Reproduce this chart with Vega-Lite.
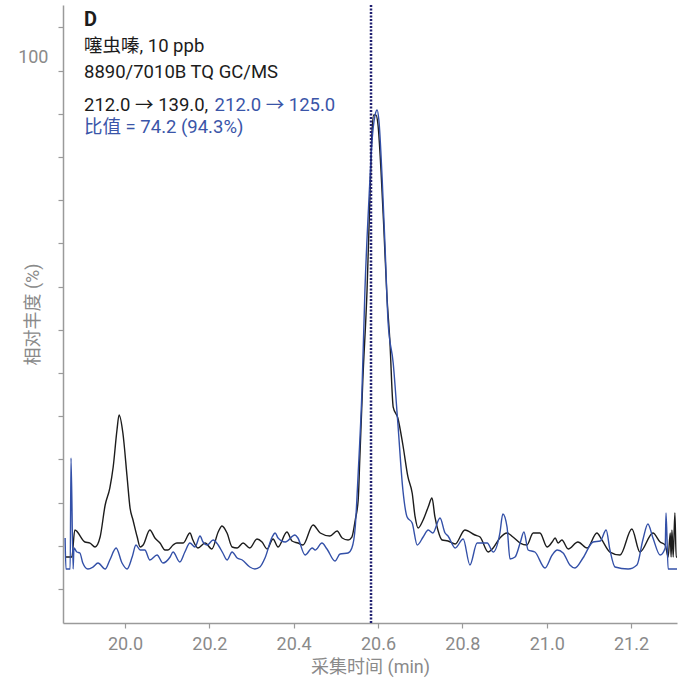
{
  "$schema": "https://vega.github.io/schema/vega-lite/v6.json",
  "width": 614,
  "height": 618,
  "autosize": "none",
  "padding": {"left": 63, "top": 5, "right": 12, "bottom": 62},
  "background": "white",
  "config": {
    "view": {"stroke": null},
    "axis": {
      "labelFont": "Roboto, Noto Sans CJK SC",
      "titleFont": "Roboto, Noto Sans CJK SC",
      "labelFontSize": 18,
      "titleFontSize": 18,
      "labelColor": "#8a8a8a",
      "titleColor": "#8a8a8a",
      "titleFontWeight": "normal",
      "domainColor": "#9a9a9a",
      "tickColor": "#9a9a9a",
      "domainWidth": 1.5,
      "tickWidth": 1.2,
      "tickSize": 5,
      "grid": false
    }
  },
  "datasets": {
    "q": [
      {"t":19.858,"v":11.66},{"t":19.874,"v":11.66},{"t":19.881,"v":16.43},{"t":19.905,"v":14.31},{"t":19.917,"v":14.13},{"t":19.929,"v":13.43},{"t":19.941,"v":15.19},{"t":19.953,"v":20.85},{"t":19.964,"v":23.85},{"t":19.972,"v":27.56},{"t":19.981,"v":34.10},{"t":19.986,"v":36.75},{"t":19.995,"v":33.57},{"t":20.005,"v":25.80},{"t":20.012,"v":20.32},{"t":20.019,"v":18.20},{"t":20.029,"v":15.19},{"t":20.036,"v":13.43},{"t":20.043,"v":13.78},{"t":20.059,"v":16.43},{"t":20.071,"v":15.02},{"t":20.083,"v":14.13},{"t":20.095,"v":12.90},{"t":20.102,"v":12.90},{"t":20.114,"v":13.78},{"t":20.123,"v":14.13},{"t":20.138,"v":14.13},{"t":20.154,"v":15.90},{"t":20.161,"v":14.66},{"t":20.173,"v":13.25},{"t":20.190,"v":14.13},{"t":20.206,"v":13.07},{"t":20.221,"v":16.08},{"t":20.230,"v":17.14},{"t":20.242,"v":15.90},{"t":20.254,"v":13.43},{"t":20.266,"v":13.25},{"t":20.280,"v":14.13},{"t":20.296,"v":13.25},{"t":20.313,"v":14.84},{"t":20.325,"v":14.31},{"t":20.337,"v":13.07},{"t":20.351,"v":14.84},{"t":20.363,"v":13.43},{"t":20.384,"v":16.08},{"t":20.396,"v":14.49},{"t":20.410,"v":14.13},{"t":20.422,"v":13.78},{"t":20.446,"v":17.31},{"t":20.463,"v":15.90},{"t":20.486,"v":15.37},{"t":20.503,"v":16.25},{"t":20.515,"v":15.02},{"t":20.529,"v":14.66},{"t":20.538,"v":15.19},{"t":20.546,"v":18.20},{"t":20.553,"v":21.73},{"t":20.557,"v":29.33},{"t":20.564,"v":42.93},{"t":20.574,"v":58.83},{"t":20.581,"v":75.62},{"t":20.586,"v":87.10},{"t":20.590,"v":89.75},{"t":20.595,"v":89.75},{"t":20.600,"v":87.99},{"t":20.607,"v":80.04},{"t":20.614,"v":69.43},{"t":20.621,"v":57.95},{"t":20.628,"v":50.00},{"t":20.636,"v":38.16},{"t":20.647,"v":36.22},{"t":20.659,"v":31.45},{"t":20.671,"v":25.80},{"t":20.681,"v":22.97},{"t":20.688,"v":18.73},{"t":20.695,"v":16.78},{"t":20.707,"v":18.20},{"t":20.719,"v":20.49},{"t":20.728,"v":22.08},{"t":20.735,"v":18.73},{"t":20.742,"v":16.43},{"t":20.752,"v":14.66},{"t":20.766,"v":14.49},{"t":20.783,"v":13.96},{"t":20.806,"v":16.43},{"t":20.830,"v":15.55},{"t":20.842,"v":15.19},{"t":20.861,"v":12.54},{"t":20.873,"v":13.25},{"t":20.889,"v":15.02},{"t":20.906,"v":15.90},{"t":20.920,"v":15.19},{"t":20.937,"v":14.13},{"t":20.953,"v":13.78},{"t":20.968,"v":15.90},{"t":20.984,"v":15.90},{"t":21.001,"v":13.43},{"t":21.013,"v":14.31},{"t":21.020,"v":15.02},{"t":21.027,"v":14.13},{"t":21.036,"v":14.66},{"t":21.051,"v":13.07},{"t":21.074,"v":14.31},{"t":21.096,"v":13.25},{"t":21.119,"v":15.90},{"t":21.131,"v":14.66},{"t":21.150,"v":12.54},{"t":21.174,"v":12.01},{"t":21.202,"v":16.61},{"t":21.221,"v":12.54},{"t":21.252,"v":15.90},{"t":21.269,"v":14.31},{"t":21.281,"v":13.78},{"t":21.288,"v":11.66},{"t":21.293,"v":15.90},{"t":21.295,"v":11.66},{"t":21.297,"v":16.43},{"t":21.300,"v":11.66},{"t":21.304,"v":19.43},{"t":21.307,"v":11.66},{"t":21.309,"v":11.66}
    ],
    "c": [
      {"t":19.858,"v":15.02},{"t":19.860,"v":9.54},{"t":19.870,"v":9.54},{"t":19.872,"v":29.15},{"t":19.877,"v":9.54},{"t":19.879,"v":13.25},{"t":19.886,"v":12.54},{"t":19.893,"v":12.37},{"t":19.900,"v":10.60},{"t":19.912,"v":9.54},{"t":19.924,"v":9.89},{"t":19.936,"v":10.60},{"t":19.953,"v":9.54},{"t":19.964,"v":11.13},{"t":19.979,"v":13.25},{"t":19.993,"v":10.60},{"t":20.005,"v":9.54},{"t":20.017,"v":11.66},{"t":20.026,"v":13.78},{"t":20.036,"v":12.90},{"t":20.047,"v":12.90},{"t":20.059,"v":11.13},{"t":20.076,"v":12.01},{"t":20.090,"v":10.60},{"t":20.107,"v":11.66},{"t":20.114,"v":12.54},{"t":20.130,"v":10.78},{"t":20.142,"v":12.54},{"t":20.154,"v":14.13},{"t":20.166,"v":13.43},{"t":20.178,"v":15.37},{"t":20.185,"v":14.31},{"t":20.195,"v":13.78},{"t":20.209,"v":14.66},{"t":20.221,"v":13.78},{"t":20.232,"v":12.37},{"t":20.242,"v":11.13},{"t":20.254,"v":12.54},{"t":20.266,"v":11.48},{"t":20.278,"v":11.13},{"t":20.296,"v":9.89},{"t":20.308,"v":9.54},{"t":20.320,"v":9.89},{"t":20.332,"v":11.48},{"t":20.349,"v":15.19},{"t":20.356,"v":15.90},{"t":20.363,"v":15.02},{"t":20.380,"v":14.31},{"t":20.403,"v":15.55},{"t":20.410,"v":15.02},{"t":20.427,"v":12.01},{"t":20.444,"v":13.25},{"t":20.451,"v":12.90},{"t":20.467,"v":14.13},{"t":20.479,"v":13.07},{"t":20.498,"v":10.95},{"t":20.510,"v":12.19},{"t":20.529,"v":12.37},{"t":20.538,"v":13.25},{"t":20.546,"v":16.96},{"t":20.553,"v":26.50},{"t":20.562,"v":41.17},{"t":20.569,"v":58.83},{"t":20.579,"v":75.62},{"t":20.586,"v":85.34},{"t":20.593,"v":89.75},{"t":20.598,"v":90.64},{"t":20.602,"v":88.87},{"t":20.610,"v":78.27},{"t":20.617,"v":65.90},{"t":20.624,"v":53.00},{"t":20.636,"v":45.94},{"t":20.647,"v":35.34},{"t":20.659,"v":23.50},{"t":20.669,"v":18.73},{"t":20.681,"v":17.67},{"t":20.693,"v":13.78},{"t":20.707,"v":15.19},{"t":20.719,"v":16.43},{"t":20.730,"v":15.90},{"t":20.747,"v":18.55},{"t":20.759,"v":15.90},{"t":20.766,"v":15.37},{"t":20.783,"v":13.25},{"t":20.802,"v":14.84},{"t":20.818,"v":10.25},{"t":20.835,"v":14.13},{"t":20.859,"v":14.13},{"t":20.873,"v":12.54},{"t":20.889,"v":15.90},{"t":20.896,"v":19.26},{"t":20.906,"v":16.96},{"t":20.913,"v":11.31},{"t":20.925,"v":11.66},{"t":20.937,"v":14.13},{"t":20.946,"v":16.08},{"t":20.956,"v":12.90},{"t":20.972,"v":12.54},{"t":20.996,"v":9.72},{"t":21.013,"v":12.01},{"t":21.025,"v":12.90},{"t":21.039,"v":12.37},{"t":21.055,"v":10.25},{"t":21.067,"v":9.72},{"t":21.086,"v":11.48},{"t":21.110,"v":14.31},{"t":21.127,"v":14.49},{"t":21.141,"v":16.43},{"t":21.150,"v":12.90},{"t":21.162,"v":9.89},{"t":21.193,"v":9.54},{"t":21.214,"v":10.25},{"t":21.228,"v":14.66},{"t":21.240,"v":17.49},{"t":21.252,"v":15.02},{"t":21.269,"v":12.01},{"t":21.281,"v":13.25},{"t":21.283,"v":19.43},{"t":21.288,"v":9.54},{"t":21.309,"v":9.54}
    ],
    "notes": [
      {"t":19.9028,"v":100.88,"label":"噻虫嗪, 10 ppb","k":"k"},
      {"t":19.9028,"v":96.29,"label":"8890/7010B TQ GC/MS","k":"k"},
      {"t":19.9028,"v":90.46,"label":"212.0 → 139.0,","k":"k"},
      {"t":20.2125,"v":90.46,"label":"212.0 → 125.0","k":"b"},
      {"t":19.9028,"v":86.57,"label":"比值 = 74.2 (94.3%)","k":"b"}
    ],
    "head": [{"t":19.9028,"v":105.48,"label":"D"}],
    "rt": [{"t":20.5834}]
  },
  "layer": [
    {
      "data": {"name": "q"},
      "mark": {"type": "line", "color": "#1c1c1c", "strokeWidth": 1.4, "interpolate": "monotone", "clip": true},
      "encoding": {
        "x": {
          "field": "t", "type": "quantitative",
          "scale": {"domain": [19.853, 21.309], "nice": false, "zero": false},
          "axis": {
            "title": "采集时间 (min)",
            "values": [20.0, 20.2, 20.4, 20.6, 20.8, 21.0, 21.2],
            "format": ".1f",
            "labelPadding": 7,
            "titlePadding": 5
          }
        },
        "y": {
          "field": "v", "type": "quantitative",
          "scale": {"domain": [0, 109.19], "nice": false, "zero": false},
          "axis": {
            "title": "相对丰度 (%)",
            "values": [6.007, 13.64, 21.272, 28.905, 36.537, 44.17, 51.802, 59.435, 67.067, 74.7, 82.332, 89.965, 97.597, 100, 105.23],
            "labelExpr": "datum.value == 100 ? '100' : ''",
            "labelOverlap": false,
            "labelPadding": 10,
            "tickOpacity": {"condition": {"test": "datum.value == 100", "value": 0}, "value": 1},
            "titleX": -30,
            "titleBaseline": "middle"
          }
        }
      }
    },
    {
      "data": {"name": "c"},
      "mark": {"type": "line", "color": "#3350a8", "strokeWidth": 1.4, "interpolate": "monotone", "clip": true},
      "encoding": {
        "x": {"field": "t", "type": "quantitative"},
        "y": {"field": "v", "type": "quantitative"}
      }
    },
    {
      "data": {"name": "rt"},
      "mark": {"type": "rule", "color": "#1f1f70", "strokeWidth": 2.5, "strokeDash": [2, 1.5]},
      "encoding": {
        "x": {"field": "t", "type": "quantitative"}
      }
    },
    {
      "data": {"name": "notes"},
      "mark": {"type": "text", "align": "left", "baseline": "alphabetic", "font": "Roboto, Noto Sans CJK SC", "fontSize": 18.5},
      "encoding": {
        "x": {"field": "t", "type": "quantitative"},
        "y": {"field": "v", "type": "quantitative"},
        "text": {"field": "label"},
        "color": {"field": "k", "type": "nominal", "scale": {"domain": ["k", "b"], "range": ["#1c1c1c", "#3a55a8"]}, "legend": null}
      }
    },
    {
      "data": {"name": "head"},
      "mark": {"type": "text", "align": "left", "baseline": "alphabetic", "font": "Roboto", "fontSize": 20, "fontWeight": "bold", "color": "#1c1c1c"},
      "encoding": {
        "x": {"field": "t", "type": "quantitative"},
        "y": {"field": "v", "type": "quantitative"},
        "text": {"field": "label"}
      }
    }
  ]
}
